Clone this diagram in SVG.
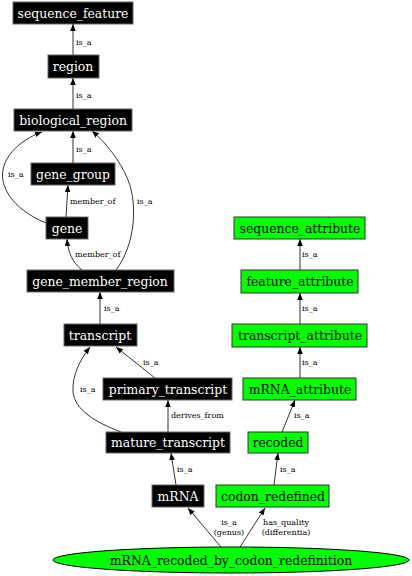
<svg xmlns="http://www.w3.org/2000/svg" width="412" height="576" viewBox="0 0 412 576">
<defs>
<marker id="ah" viewBox="0 0 10 10" refX="10" refY="5" markerWidth="7" markerHeight="7" markerUnits="userSpaceOnUse" orient="auto">
<path d="M0,1 L10,5 L0,9 z" fill="#000"/>
</marker>
<style>
.b rect{fill:#000;stroke:#666;stroke-width:1}
.g rect{fill:#00ff00;stroke:#333;stroke-width:1}
.b text{fill:#fff}
.g text{fill:#000}
text{font-family:"DejaVu Serif",serif;font-size:12.4px;text-anchor:middle}
.e path{fill:none;stroke:#333;stroke-width:1;marker-end:url(#ah)}
.e text{font-size:8px;text-anchor:start;fill:#000}
.e text.c{text-anchor:middle}
</style>
</defs>
<rect width="412" height="576" fill="#fff"/>
<g class="e" id="edges">
<path d="M73,55 L73,24"/><text x="76" y="45">is_a</text>
<path d="M73,109 L73,78"/><text x="76" y="98">is_a</text>
<path d="M73,163 L73,131"/><text x="76" y="152">is_a</text>
<path d="M46,223 C10,208 0,185 3,170 C6,152 25,138 42,132"/><text x="8" y="177">is_a</text>
<path d="M66,217 L68,185"/><text x="70" y="204">member_of</text>
<path d="M82,270 C72,262 68,252 67,239"/><text x="75" y="257">member_of</text>
<path d="M116,270 C135,245 138,205 128,180 C120,160 105,142 92,131"/><text x="137" y="204">is_a</text>
<path d="M100,324 L100,292"/><text x="104" y="311">is_a</text>
<path d="M155,378 L116,347"/><text x="143" y="365">is_a</text>
<path d="M121,432 C95,422 75,410 73,392 C72,375 80,360 90,347"/><text x="80" y="392">is_a</text>
<path d="M168,432 L168,400"/><text x="171" y="418">derives_from</text>
<path d="M176,485 L171,453"/><text x="177" y="472">is_a</text>
<path d="M221,547 L188,508"/><text class="c" x="229" y="525">is_a</text><text class="c" x="229" y="535">(genus)</text>
<path d="M240,547 L265,508"/><text class="c" x="286" y="525">has_quality</text><text class="c" x="286" y="535">(differentia)</text>
<path d="M274,485 L278,453"/><text x="280" y="472">is_a</text>
<path d="M282,432 L295,400"/><text x="294" y="418">is_a</text>
<path d="M300,378 L300,347"/><text x="302" y="365">is_a</text>
<path d="M300,324 L300,293"/><text x="302" y="311">is_a</text>
<path d="M300,270 L300,239"/><text x="302" y="257">is_a</text>
</g>
<g id="sequence_feature" class="b"><rect x="13" y="2" width="120" height="22"/><text x="73" y="17.5">sequence_feature</text></g>
<g id="region" class="b"><rect x="48" y="55" width="51" height="23"/><text x="73" y="71">region</text></g>
<g id="biological_region" class="b"><rect x="14" y="109" width="118" height="22"/><text x="73" y="124.5">biological_region</text></g>
<g id="gene_group" class="b"><rect x="31" y="163" width="84" height="22"/><text x="73" y="178.5">gene_group</text></g>
<g id="gene" class="b"><rect x="46" y="217" width="42" height="22"/><text x="67" y="232.5">gene</text></g>
<g id="gene_member_region" class="b"><rect x="27" y="270" width="147" height="22"/><text x="100" y="285.5">gene_member_region</text></g>
<g id="transcript" class="b"><rect x="64" y="324" width="73" height="22"/><text x="100" y="339.5">transcript</text></g>
<g id="primary_transcript" class="b"><rect x="103" y="378" width="129" height="22"/><text x="168" y="393.5">primary_transcript</text></g>
<g id="mature_transcript" class="b"><rect x="106" y="432" width="124" height="21"/><text x="168" y="447">mature_transcript</text></g>
<g id="mRNA" class="b"><rect x="152" y="485" width="52" height="22"/><text x="178" y="500.5">mRNA</text></g>
<g id="mRNA_recoded_by_codon_redefinition" class="g"><ellipse cx="231" cy="560" rx="178" ry="13" fill="#00ff00" stroke="#000"/><text x="231" y="564.5">mRNA_recoded_by_codon_redefinition</text></g>
<g id="codon_redefined" class="g"><rect x="216" y="485" width="113" height="22"/><text x="273" y="500.5">codon_redefined</text></g>
<g id="recoded" class="g"><rect x="248" y="432" width="60" height="21"/><text x="278" y="447">recoded</text></g>
<g id="mRNA_attribute" class="g"><rect x="243" y="378" width="113" height="22"/><text x="300" y="393.5">mRNA_attribute</text></g>
<g id="transcript_attribute" class="g"><rect x="232" y="324" width="135" height="23"/><text x="300" y="339.5">transcript_attribute</text></g>
<g id="feature_attribute" class="g"><rect x="241" y="270" width="117" height="23"/><text x="300" y="285.5">feature_attribute</text></g>
<g id="sequence_attribute" class="g"><rect x="234" y="217" width="131" height="22"/><text x="300" y="232.5">sequence_attribute</text></g>
</svg>
